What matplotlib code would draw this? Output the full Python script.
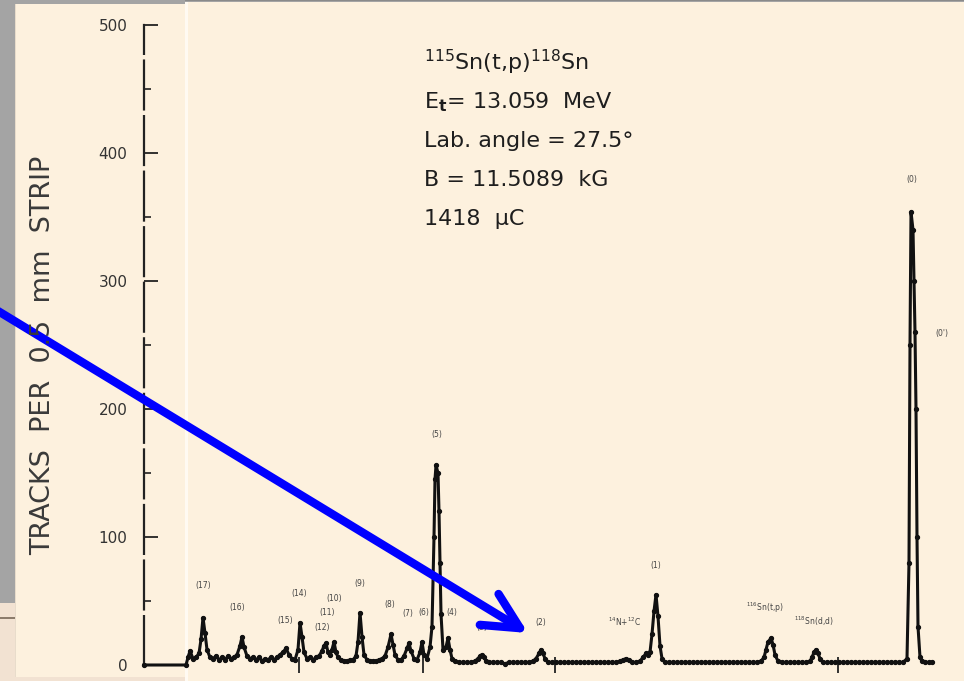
import matplotlib
matplotlib.use("Agg")
import matplotlib.pyplot as plt
from matplotlib.patches import Rectangle

# ---------------- data ----------------
# position along the focal plane (arbitrary channel units) and tracks per strip
channel = [0, 42, 44, 46, 49, 52, 55, 57, 59, 61, 63, 66, 69, 72, 75, 78, 81, 84, 87, 90,
           93, 96, 98, 100, 103, 106, 109, 112, 115, 118, 121, 124, 127, 130, 133, 136,
           139, 142, 145, 148, 151, 154, 156, 158, 160, 163, 166, 169, 172, 175, 178,
           180, 182, 184, 186, 188, 190, 192, 194, 197, 200, 203, 206, 209, 212, 214,
           216, 218, 220, 223, 226, 229, 232, 235, 238, 241, 244, 247, 249, 251, 254,
           257, 260, 263, 265, 267, 270, 273, 276, 278, 280, 283, 286, 288, 290, 291,
           292, 294, 295, 296, 297, 299, 302, 304, 306, 308, 311, 315, 319, 323, 327,
           331, 334, 336, 338, 340, 342, 345, 349, 353, 357, 361, 365, 369, 373, 377,
           381, 385, 389, 392, 395, 397, 399, 401, 404, 408, 412, 416, 420, 424, 428,
           432, 436, 440, 444, 448, 452, 456, 460, 464, 468, 472, 476, 479, 482, 485,
           488, 492, 496, 499, 502, 504, 506, 508, 510, 512, 514, 516, 518, 521, 525,
           529, 533, 537, 541, 545, 549, 553, 557, 561, 565, 569, 573, 577, 581, 585,
           589, 593, 597, 601, 605, 609, 613, 617, 620, 622, 624, 627, 629, 631, 634,
           638, 642, 646, 650, 654, 658, 662, 666, 668, 670, 672, 674, 676, 679, 683,
           687, 691, 695, 699, 703, 707, 711, 715, 719, 723, 727, 731, 735, 739, 743,
           747, 751, 755, 759, 763, 765, 766, 767, 769, 770, 771, 772, 773, 774, 776,
           778, 781, 785, 788]
tracks = [0, 0, 6, 11, 5, 6, 9, 20, 37, 25, 12, 6, 5, 7, 4, 6, 4, 7, 5, 6,
          8, 15, 22, 14, 7, 5, 6, 4, 6, 3, 5, 4, 6, 4, 6, 8,
          10, 13, 8, 5, 4, 12, 33, 22, 10, 5, 6, 4, 6, 7, 11,
          15, 17, 10, 8, 12, 18, 10, 6, 4, 3, 3, 4, 4, 7, 18,
          41, 22, 8, 4, 3, 3, 3, 4, 5, 7, 14, 24, 16, 8, 4,
          4, 7, 13, 17, 11, 5, 4, 10, 18, 8, 5, 14, 30, 100, 145,
          156, 150, 120, 80, 40, 12, 14, 21, 12, 5, 3, 2, 2, 2, 2,
          3, 5, 7, 8, 6, 3, 2, 2, 2, 2, 1, 2, 2, 2, 2,
          2, 2, 3, 5, 9, 12, 9, 5, 2, 2, 2, 2, 2, 2, 2,
          2, 2, 2, 2, 2, 2, 2, 2, 2, 2, 2, 3, 4, 5, 4,
          2, 2, 3, 6, 9, 8, 10, 24, 42, 55, 38, 15, 5, 2, 2,
          2, 2, 2, 2, 2, 2, 2, 2, 2, 2, 2, 2, 2, 2, 2,
          2, 2, 2, 2, 2, 2, 2, 3, 6, 12, 18, 21, 16, 8, 3,
          2, 2, 2, 2, 2, 2, 2, 3, 6, 10, 12, 9, 5, 2, 2,
          2, 2, 2, 2, 2, 2, 2, 2, 2, 2, 2, 2, 2, 2, 2,
          2, 2, 2, 2, 5, 80, 250, 354, 340, 300, 260, 200, 100, 30, 6,
          3, 2, 2, 2]

y_ticks = [0, 100, 200, 300, 400, 500]
y_tick_labels = ["0", "100", "200", "300", "400", "500"]
y_minor = [50, 150, 250, 350, 450]
x_ticks = [155, 279, 411, 694]

peak_labels = ["(17)", "(16)", "(15)", "(14)", "(12)", "(11)", "(10)", "(9)", "(8)",
               "(7)", "(6)", "(5)", "(4)", "(3)", "(2)", "$^{14}$N+$^{12}$C", "(1)",
               "$^{116}$Sn(t,p)", "$^{118}$Sn(d,d)", "(0)", "(0')"]
label_x = [59, 93, 141, 155, 178, 183, 190, 216, 246, 264, 280, 293, 308, 338, 397,
           481, 512, 621, 670, 768, 798]
label_y = [62, 45, 35, 56, 29, 41, 52, 64, 47, 40, 41, 180, 41, 29, 33, 34, 78,
           45, 34, 379, 259]

info_lines = [r"$^{115}$Sn(t,p)$^{118}$Sn",
              r"E$_{\mathbf{t}}$= 13.059  MeV",
              "Lab. angle = 27.5°",
              "B = 11.5089  kG",
              "1418  μC"]

# ---------------- figure ----------------
W, H = 964, 681
fig = plt.figure(figsize=(W / 100, H / 100), dpi=100)
fig.patch.set_facecolor("#a4a4a4")

cream = "#fdf1de"


def rect(x0, y0, x1, y1, color, z=0, **kw):
    fig.add_artist(Rectangle((x0 / W, 1 - y1 / H), (x1 - x0) / W, (y1 - y0) / H,
                             transform=fig.transFigure, facecolor=color,
                             edgecolor="none", zorder=z, **kw))


rect(0, 603, 185, 681, "#f2e2d2", z=0)
rect(0, 617, 15, 619, "#8c7c6c", z=0.1)
rect(15, 4, 185, 677, cream, z=0.2)
rect(15, 4, 16, 677, "#e8dccb", z=0.25)
rect(185, 2, 964, 681, cream, z=0.3)
rect(185, 2, 188, 681, "#fffaf2", z=0.35)
rect(185, 0, 964, 1, "#8a8a8a", z=0.35)

ax = fig.add_axes([144 / W, 16 / H, 791 / W, 640 / H])
ax.set_facecolor("none")
ax.set_zorder(2)
ax.set_xlim(0, 791)
ax.set_ylim(0, 500)

for s in ["top", "right", "bottom"]:
    ax.spines[s].set_visible(False)
ax.spines["left"].set_linestyle((0, (22, 3)))
ax.spines["left"].set_linewidth(1.6)
ax.spines["left"].set_color("#222222")

ax.set_yticks(y_ticks)
ax.set_yticklabels(y_tick_labels)
ax.set_yticks(y_minor, minor=True)
ax.tick_params(axis="y", which="major", direction="in", length=10, width=1.3,
               color="#222222", pad=12, labelsize=11, labelcolor="#333333")
ax.tick_params(axis="y", which="minor", direction="in", length=5, width=1.2,
               color="#222222")
ax.set_xticks(x_ticks)
ax.tick_params(axis="x", which="both", direction="inout", length=12, width=1.3,
               color="#222222", labelbottom=False)

ax.plot(channel, tracks, color="#111111", lw=2.2, marker="o", ms=2.8,
        mec="#111111", mfc="#111111", clip_on=False, zorder=3)

for t, x, y in zip(peak_labels, label_x, label_y):
    ax.text(x, y, t, fontsize=5.5, color="#444444", ha="center", va="center",
            clip_on=False)

# header text block
info_y = [62, 102, 141, 180, 219]
for t, yy in zip(info_lines, info_y):
    fig.text(424 / W, 1 - yy / H, t, fontsize=16, color="#1e1e1e",
             ha="left", va="center", zorder=5)

fig.text(43 / W, 1 - 355 / H, "TRACKS  PER  0.5  mm  STRIP", rotation=90,
         fontsize=19.5, color="#3a3a3a", ha="center", va="center", zorder=5)

# blue arrow overlay (figure pixels measured from the bottom-left corner)
ax.annotate("", xy=(528, H - 633), xytext=(-2, H - 311), xycoords="figure pixels",
            textcoords="figure pixels",
            arrowprops=dict(arrowstyle="->,head_length=2.6,head_width=1.3",
                            color="#0000ff", lw=6, shrinkA=0, shrinkB=0,
                            capstyle="round", joinstyle="round"),
            annotation_clip=False, zorder=6)

fig.savefig("out.png", dpi=100, facecolor=fig.get_facecolor())
